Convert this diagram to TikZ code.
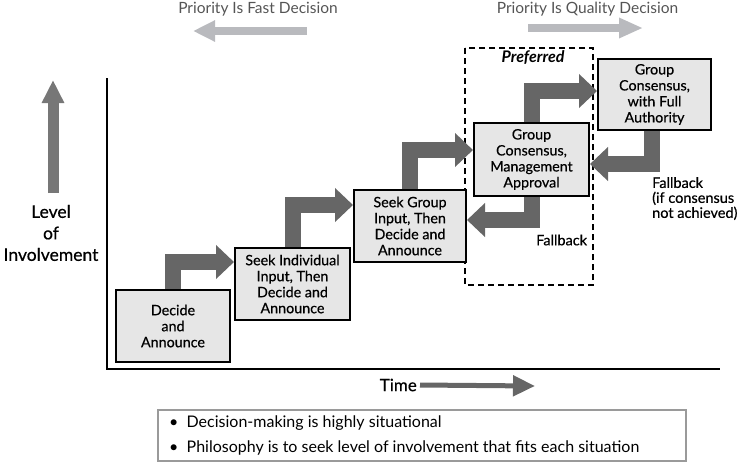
\documentclass[tikz,border=0pt]{standalone}
\usepackage{fontspec}
\setmainfont{Lato}
\newfontfamily\medfont{Lato}[FakeBold=0.5]
\usetikzlibrary{arrows.meta}
\definecolor{boxfill}{HTML}{E6E6E6}
\definecolor{darkarrow}{HTML}{666666}
\definecolor{midarrow}{HTML}{777777}
\definecolor{lightarrow}{HTML}{B9BABE}
\definecolor{toptext}{HTML}{555555}
\definecolor{noteborder}{HTML}{9A9A9A}
\tikzset{
  stepbox/.style={draw=black, line width=1.6pt, fill=boxfill, align=center,
    inner sep=1pt, font=\medfont\fontsize{14.3}{16}\selectfont},
  bigarrow/.style={draw=darkarrow, line width=16pt, line join=miter,
    -{Triangle[length=18pt,width=33pt]}},
  lbl/.style={font=\medfont\fontsize{14.5}{15}\selectfont, inner sep=0pt},
  toplbl/.style={font=\fontsize{15.5}{17}\selectfont, text=toptext, inner sep=0pt},
  notelbl/.style={font=\fontsize{16}{17}\selectfont, inner sep=0pt, anchor=west},
}
\begin{document}
\begin{tikzpicture}[x=1pt,y=-1pt]
\useasboundingbox (0,0) rectangle (738,464);
% axes
\coordinate (axtop) at (107,78);
\coordinate (axorig) at (107,369);
\coordinate (axright) at (720,369);
\draw[line width=1.5pt] (axtop) -- (axorig) -- (axright);
% dashed preferred region
\draw[line width=1.6pt, dash pattern=on 6pt off 4pt] (465,48) rectangle (593,285);
\node[font=\fontsize{16}{17}\selectfont\bfseries\itshape, inner sep=0pt] (pref) at (533,58) {Preferred};
% boxes
\node[stepbox, minimum width=114.4pt, minimum height=72.4pt] (b1) at (173,326) {Decide\\and\\Announce};
\node[stepbox, minimum width=115.4pt, minimum height=72.4pt] (b2) at (292.5,284) {Seek Individual\\Input, Then\\Decide and\\Announce};
\node[stepbox, minimum width=112.4pt, minimum height=72.4pt] (b3) at (410,226) {Seek Group\\Input, Then\\Decide and\\Announce};
\node[stepbox, minimum width=115.4pt, minimum height=73.4pt] (b4) at (531.5,159.5) {Group\\Consensus,\\Management\\Approval};
\node[stepbox, minimum width=113.4pt, minimum height=71.4pt] (b5) at (654.5,94.5) {Group\\Consensus,\\with Full\\Authority};
% step arrows
\draw[bigarrow] (b1.north) |- ([yshift=-15pt]b2.north west);
\draw[bigarrow] (b2.north) |- ([yshift=-16pt]b3.north west);
\draw[bigarrow] (b3.north) |- ([yshift=-28pt]b4.north west);
\draw[bigarrow] (b4.north) |- ([yshift=-33pt]b5.north west);
% fallback arrows
\draw[bigarrow] ([xshift=-3pt]b5.south) |- ([yshift=-42pt]b4.north east);
\draw[bigarrow] (b4.south) |- ([yshift=-31pt]b3.north east);
\node[lbl, anchor=west] (fb1) at (536,240) {Fallback};
\node[lbl, anchor=north west, align=left] (fb2) at (652,177) {Fallback\\(if consensus\\not achieved)};
% level of involvement
\coordinate (lvlbot) at (53,193);
\coordinate (lvltop) at (53,80);
\draw[draw=midarrow, line width=11pt, -{Triangle[length=23pt,width=21pt]}] (lvlbot) -- (lvltop);
\node[align=center, inner sep=0pt, font=\medfont\fontsize{17.5}{21.5}\selectfont] (lvl) at (51,233) {Level\\of\\Involvement};
% time
\node[inner sep=0pt, font=\medfont\fontsize{17}{18}\selectfont, anchor=east] (time) at (417,385) {Time};
\coordinate (timeend) at (535,386);
\draw[draw=darkarrow, line width=5pt, -{Triangle[length=22pt,width=20pt]}] ([xshift=3pt]time.east) -- (timeend);
% priorities
\node[toplbl] (pfast) at (258,9) {Priority Is Fast Decision};
\node[toplbl] (pqual) at (587.5,9) {Priority Is Quality Decision};
\coordinate (fasttail) at (307,31);
\coordinate (fasttip) at (193,31);
\draw[draw=lightarrow, line width=8pt, -{Triangle[length=22pt,width=20pt]}] (fasttail) -- (fasttip);
\coordinate (qualtail) at (528,28);
\coordinate (qualtip) at (643,28);
\draw[draw=lightarrow, line width=8pt, -{Triangle[length=24pt,width=19pt]}] (qualtail) -- (qualtip);
% note box
\draw[draw=noteborder, line width=1.5pt] (158,410) rectangle (686,461);
\node[notelbl] (n1) at (169,423) {\textbullet\ \ Decision-making is highly situational};
\node[notelbl] (n2) at (169,448) {\textbullet\ \ Philosophy is to seek level of involvement that fits each situation};
\end{tikzpicture}
\end{document}
